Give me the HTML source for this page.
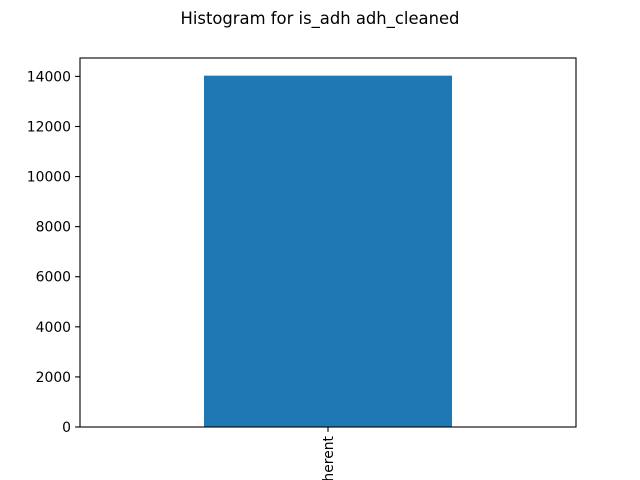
<!DOCTYPE html>
<html><head><meta charset="utf-8"><style>
html,body{margin:0;background:#fff;width:640px;height:480px;overflow:hidden;}
svg{display:block;overflow:hidden;}
svg text{font-family:"DejaVu Sans","Liberation Sans",sans-serif;}
</style></head><body>
<svg id="chart" width="640" height="480" xmlns="http://www.w3.org/2000/svg">
<defs><clipPath id="fig"><rect width="640" height="480"/></clipPath></defs>
<rect width="640" height="480" fill="#fff"/>
<text x="320" y="24" font-size="16.4" text-anchor="middle">Histogram for is_adh adh_cleaned</text>
<g id="plot" clip-path="url(#fig)"></g>
</svg>
<script>
const categories = ["nonadherent"];
const counts = [14030];
const yTicks = [0, 2000, 4000, 6000, 8000, 10000, 12000, 14000];

const L = 80, R = 576, T = 58, B = 427;
const yMax = 14735;
function y(v){ return B - v / yMax * (B - T); }
function xCenter(i){ return L + (R - L) * (i + 0.5) / categories.length; }
const bw = (R - L) / categories.length * 0.5;
const ns = "http://www.w3.org/2000/svg";
const g = document.getElementById("plot");
function mk(tag, attrs){ const e = document.createElementNS(ns, tag); for (const k in attrs) e.setAttribute(k, attrs[k]); g.appendChild(e); return e; }

categories.forEach((c, i) => {
  const bar = mk("rect", {x: xCenter(i) - bw/2, y: y(counts[i]), width: bw, height: B - y(counts[i]), fill: "#1f77b4"});
  
  
  const t = mk("line", {x1: xCenter(i), x2: xCenter(i), y1: B, y2: B + 4.9, stroke: "#000", "stroke-width": 1.1});
  
  
  const lab = mk("text", {x: 0, y: 0, "font-size": 13.9, "text-anchor": "end", transform: `translate(${xCenter(i) + 5},${B + 9}) rotate(-90)`});
  lab.textContent = c;
  
  
});

yTicks.forEach(v => {
  const t = mk("line", {x1: L - 4.9, x2: L, y1: y(v), y2: y(v), stroke: "#000", "stroke-width": 1.1});
  
  
  const lab = mk("text", {x: L - 9, y: y(v) + 5, "font-size": 13.9, "text-anchor": "end"});
  lab.textContent = v;
  
  
});

const frame = mk("rect", {x: L, y: T, width: R - L, height: B - T, fill: "none", stroke: "#000", "stroke-width": 1.1});


</script>
</body></html>
